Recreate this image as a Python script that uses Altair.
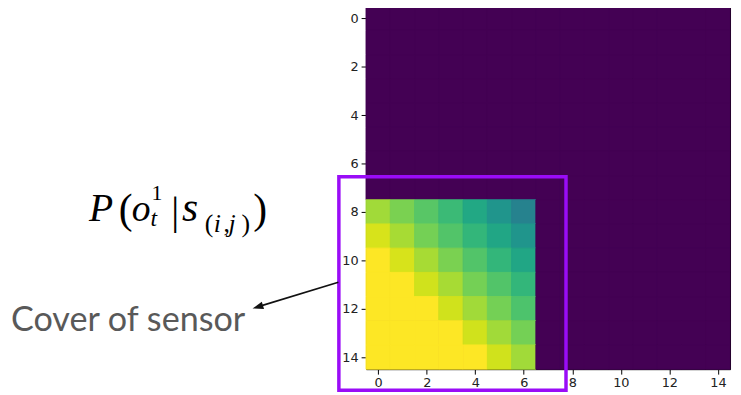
import altair as alt
import pandas as pd

# ---------------- data ----------------
n_rows = 15
n_cols = 15
cover_row_start = 8
cover_col_count = 7
row_8 = [0.86, 0.80, 0.74, 0.68, 0.60, 0.52, 0.44]
row_9 = [0.94, 0.87, 0.79, 0.73, 0.66, 0.59, 0.52]
row_10 = [1.00, 0.94, 0.87, 0.80, 0.73, 0.66, 0.59]
row_11 = [1.00, 1.00, 0.93, 0.87, 0.79, 0.73, 0.66]
row_12 = [1.00, 1.00, 1.00, 0.93, 0.86, 0.79, 0.72]
row_13 = [1.00, 1.00, 1.00, 1.00, 0.93, 0.86, 0.79]
row_14 = [1.00, 1.00, 1.00, 1.00, 1.00, 0.93, 0.86]
cover_values = [row_8, row_9, row_10, row_11, row_12, row_13, row_14]
x_ticks = [0, 2, 4, 6, 8, 10, 12, 14]
y_ticks = [0, 2, 4, 6, 8, 10, 12, 14]

# sensor cover box, in grid units
cover_box = {"x0": [-1.62], "x1": [7.74], "y0": [6.55], "y1": [15.37]}

records = []
for r in range(n_rows):
    for c in range(n_cols):
        v = 0.0
        if r >= cover_row_start and c < cover_col_count:
            v = cover_values[r - cover_row_start][c]
        records.append({"row": r, "col": c, "value": v})
df = pd.DataFrame(records)

# ---------------- chart ----------------
xs = alt.Scale(domain=[-0.5, 14.5], nice=False, zero=False)
ys = alt.Scale(domain=[-0.5, 14.5], nice=False, zero=False, reverse=True)
cs = alt.Scale(scheme="viridis", domain=[0, 1])

axis_common = dict(
    title=None, grid=False, domain=False, format="d",
    labelFont="DejaVu Sans", labelFontSize=13, labelColor="#222222",
    tickColor="#000000", tickSize=5, tickWidth=1, labelPadding=3,
)

heat = alt.Chart(df).transform_calculate(
    x0="datum.col - 0.5", x1="datum.col + 0.5",
    y0="datum.row - 0.5", y1="datum.row + 0.5",
).mark_rect(strokeWidth=1).encode(
    x=alt.X("x0:Q", scale=xs, axis=alt.Axis(values=x_ticks, **axis_common)),
    x2="x1:Q",
    y=alt.Y("y0:Q", scale=ys, axis=alt.Axis(values=y_ticks, **axis_common)),
    y2="y1:Q",
    color=alt.Color("value:Q", scale=cs, legend=None),
    stroke=alt.Stroke("value:Q", scale=cs, legend=None),
)

box = alt.Chart(pd.DataFrame(cover_box)).mark_rect(
    filled=False, stroke="#9a0cf7", strokeWidth=3.5
).encode(
    x=alt.X("x0:Q", scale=xs), x2="x1:Q",
    y=alt.Y("y0:Q", scale=ys), y2="y1:Q",
)

one = pd.DataFrame({"k": [0]})

arrow_line = alt.Chart(one).mark_rule(color="#111111", strokeWidth=1.6).encode(
    x=alt.value(-28), y=alt.value(279), x2=alt.value(-108), y2=alt.value(303.5)
)
arrow_head = alt.Chart(one).mark_point(
    shape="M0,-1L0.7,1L-0.7,1Z", filled=True, color="#111111", opacity=1,
    size=121, angle=253,
).encode(x=alt.value(-109.5), y=alt.value(304))


def txt(s, x, y, size, italic=True, font="Liberation Serif", color="#000000"):
    return alt.Chart(pd.DataFrame({"t": [s]})).mark_text(
        font=font, fontSize=size, fontStyle="italic" if italic else "normal",
        align="left", baseline="alphabetic", color=color,
    ).encode(text="t:N", x=alt.value(x), y=alt.value(y))


dx = -4
formula = [
    txt("P", -276 + dx, 217, 40),
    txt("(", -246 + dx, 219, 42, italic=False),
    txt("o", -233 + dx, 217, 38),
    txt("1", -213 + dx, 196, 22, italic=False),
    txt("t", -214 + dx, 222, 24),
    txt("|", -193 + dx, 220, 40, italic=False),
    txt("s", -182 + dx, 217, 42),
    txt("(", -159 + dx, 228, 26, italic=False),
    txt("i", -150 + dx, 228, 26),
    txt(",", -140 + dx, 228, 26, italic=False),
    txt("j", -135 + dx, 228, 26),
    txt(")", -122 + dx, 228, 26, italic=False),
    txt(")", -110 + dx, 219, 42, italic=False),
]

cover_label = txt("Cover of sensor", -359, 328, 34.5, italic=False,
                  font="Lato", color="#595959")

chart = alt.layer(
    heat, box, arrow_line, arrow_head, cover_label, *formula
).properties(
    width=368, height=367,
    padding={"left": 362, "top": -4, "right": 3, "bottom": 30},
    autosize=alt.AutoSizeParams(type="none"),
).configure_view(stroke="#000000", strokeWidth=1, fill="#440154")

chart.save("out.html", embed_options={"renderer": "svg", "actions": False})
